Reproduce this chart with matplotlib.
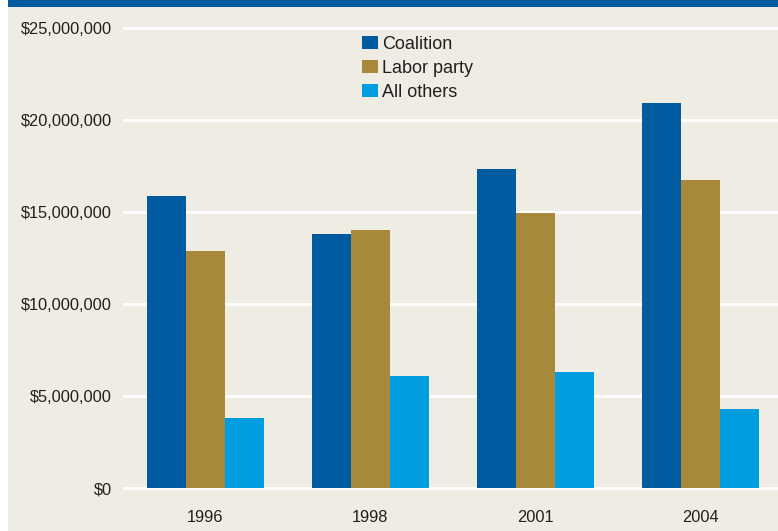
import numpy as np
import matplotlib
matplotlib.use("Agg")
import matplotlib.pyplot as plt
import matplotlib.patches as mpatches
from matplotlib.ticker import FuncFormatter

plt.rcParams["font.family"] = ["Liberation Sans", "DejaVu Sans"]

years = ["1996", "1998", "2001", "2004"]
series = ["Coalition", "Labor party", "All others"]
coalition = [15.87e6, 13.80e6, 17.32e6, 20.91e6]
labor = [12.88e6, 14.02e6, 14.93e6, 16.72e6]
others = [3.80e6, 6.09e6, 6.29e6, 4.28e6]

COLORS = ["#005ba0", "#a8883a", "#009ddf"]
BG = "#efece4"
BAND = "#005ba0"
TXT = "#231f20"

W, H = 778, 531
fig = plt.figure(figsize=(W / 100, H / 100), dpi=100, facecolor="white")

# beige panel with a thin white strip on the left and blue band on top
fig.patches.append(mpatches.Rectangle((8 / W, 0), 1 - 8 / W, 1, transform=fig.transFigure,
                                      facecolor=BG, edgecolor="none", zorder=-10))
fig.patches.append(mpatches.Rectangle((8 / W, 1 - 7 / H), 1 - 8 / W, 7 / H, transform=fig.transFigure,
                                      facecolor=BAND, edgecolor="none", zorder=-9))

ax = fig.add_axes([123 / W, 0.074, 1 - 123 / W, 0.880])
ax.set_facecolor("none")

x = np.arange(len(years))
bw = 0.236
for i, (vals, name) in enumerate(zip([coalition, labor, others], series)):
    ax.bar(x + (i - 1) * bw, vals, width=bw, color=COLORS[i], label=name, zorder=3)

ax.set_xlim(-0.497, 3.468)
ax.set_ylim(-0.2e6, 25.2e6)
ax.set_yticks(np.arange(0, 25.1e6, 5e6))
ax.yaxis.set_major_formatter(FuncFormatter(lambda v, p: f"${v:,.0f}"))
ax.set_xticks(x)
ax.set_xticklabels(years)
ax.grid(axis="y", color="white", linewidth=2, zorder=1)
ax.set_axisbelow(True)
for s in ax.spines.values():
    s.set_visible(False)
ax.tick_params(axis="y", length=0, pad=8, labelsize=11.8, labelcolor=TXT)
ax.tick_params(axis="x", length=0, pad=13, labelsize=11.8, labelcolor=TXT)

ax.legend(loc="upper left", bbox_to_anchor=(362 / W, 1 - 36 / H), bbox_transform=fig.transFigure,
          frameon=False, fontsize=13, handlelength=0.9, handleheight=0.75,
          handletextpad=0.2, labelspacing=0.38, borderpad=0, borderaxespad=0,
          labelcolor=TXT)

fig.savefig("out.png", dpi=100, facecolor="white")
